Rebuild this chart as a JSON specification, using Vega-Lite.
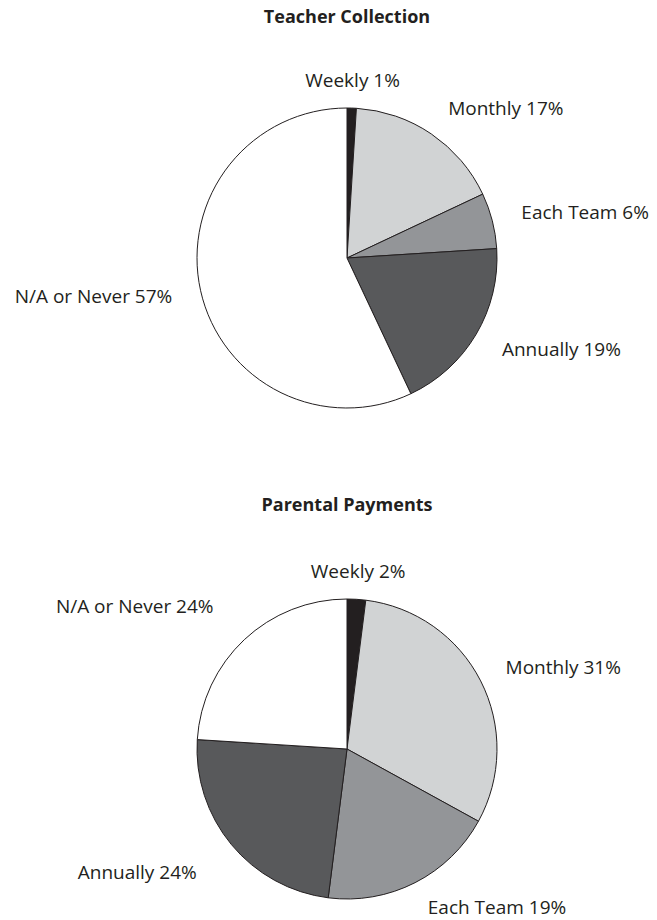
{
  "$schema": "https://vega.github.io/schema/vega-lite/v6.json",
  "padding": {"left": 14, "top": 9, "right": 0, "bottom": 0},
  "background": "white",
  "spacing": 131,
  "bounds": "flush",
  "datasets": {
    "pies": [
      {"chart": "Teacher Collection", "idx": 1, "category": "Weekly", "value": 1, "label": "Weekly 1%"},
      {"chart": "Teacher Collection", "idx": 2, "category": "Monthly", "value": 17, "label": "Monthly 17%"},
      {"chart": "Teacher Collection", "idx": 3, "category": "Each Team", "value": 6, "label": "Each Team 6%"},
      {"chart": "Teacher Collection", "idx": 4, "category": "Annually", "value": 19, "label": "Annually 19%"},
      {"chart": "Teacher Collection", "idx": 5, "category": "N/A or Never", "value": 57, "label": "N/A or Never 57%"},
      {"chart": "Parental Payments", "idx": 1, "category": "Weekly", "value": 2, "label": "Weekly 2%"},
      {"chart": "Parental Payments", "idx": 2, "category": "Monthly", "value": 31, "label": "Monthly 31%"},
      {"chart": "Parental Payments", "idx": 3, "category": "Each Team", "value": 19, "label": "Each Team 19%"},
      {"chart": "Parental Payments", "idx": 4, "category": "Annually", "value": 24, "label": "Annually 24%"},
      {"chart": "Parental Payments", "idx": 5, "category": "N/A or Never", "value": 24, "label": "N/A or Never 24%"}
    ]
  },
  "config": {
    "view": {"stroke": null},
    "font": "Open Sans",
    "title": {"fontSize": 18, "fontWeight": "bold", "color": "#231f20", "anchor": "middle", "font": "Open Sans"}
  },
  "vconcat": [
    {
      "title": {"text": "Teacher Collection", "offset": 31},
      "width": 620,
      "height": 400,
      "data": {"name": "pies"},
      "transform": [{"filter": "datum.chart === 'Teacher Collection'"}],
      "encoding": {
        "theta": {"field": "value", "type": "quantitative", "stack": true},
        "order": {"field": "idx", "type": "ordinal"}
      },
      "layer": [
        {
          "mark": {"type": "arc", "outerRadius": 150, "stroke": "#231f20", "strokeWidth": 1},
          "encoding": {
            "color": {"field": "category", "type": "nominal",
              "scale": {"domain": ["Weekly", "Monthly", "Each Team", "Annually", "N/A or Never"],
                        "range": ["#231f20", "#d1d3d4", "#939598", "#58595b", "#ffffff"]},
              "legend": null}
          }
        },
        {
          "mark": {"type": "text", "radius": 177, "align": "center", "baseline": "middle", "fontSize": 19, "color": "#231f20"},
          "encoding": {
            "text": {"field": "label", "type": "nominal"},
            "opacity": {"condition": {"test": "datum.category === 'Weekly'", "value": 1}, "value": 0}
          }
        },
        {
          "mark": {"type": "text", "radius": 180, "align": "left", "baseline": "middle", "fontSize": 19, "color": "#231f20"},
          "encoding": {
            "text": {"field": "label", "type": "nominal"},
            "opacity": {"condition": {"test": "datum.category === 'Monthly' || datum.category === 'Each Team' || datum.category === 'Annually'", "value": 1}, "value": 0}
          }
        },
        {
          "mark": {"type": "text", "radius": 179, "align": "right", "baseline": "middle", "fontSize": 19, "color": "#231f20"},
          "encoding": {
            "text": {"field": "label", "type": "nominal"},
            "opacity": {"condition": {"test": "datum.category === 'N/A or Never'", "value": 1}, "value": 0}
          }
        }
      ]
    },
    {
      "title": {"text": "Parental Payments", "offset": 30},
      "width": 620,
      "height": 320,
      "data": {"name": "pies"},
      "transform": [{"filter": "datum.chart === 'Parental Payments'"}],
      "encoding": {
        "theta": {"field": "value", "type": "quantitative", "stack": true},
        "order": {"field": "idx", "type": "ordinal"}
      },
      "layer": [
        {
          "mark": {"type": "arc", "outerRadius": 150, "stroke": "#231f20", "strokeWidth": 1},
          "encoding": {
            "color": {"field": "category", "type": "nominal",
              "scale": {"domain": ["Weekly", "Monthly", "Each Team", "Annually", "N/A or Never"],
                        "range": ["#231f20", "#d1d3d4", "#939598", "#58595b", "#ffffff"]},
              "legend": null}
          }
        },
        {
          "mark": {"type": "text", "radius": 177, "align": "center", "baseline": "middle", "fontSize": 19, "color": "#231f20"},
          "encoding": {
            "text": {"field": "label", "type": "nominal"},
            "opacity": {"condition": {"test": "datum.category === 'Weekly'", "value": 1}, "value": 0}
          }
        },
        {
          "mark": {"type": "text", "radius": 178, "align": "left", "baseline": "middle", "fontSize": 19, "color": "#231f20"},
          "encoding": {
            "text": {"field": "label", "type": "nominal"},
            "opacity": {"condition": {"test": "datum.category === 'Monthly' || datum.category === 'Each Team'", "value": 1}, "value": 0}
          }
        },
        {
          "mark": {"type": "text", "radius": 195, "align": "right", "baseline": "middle", "fontSize": 19, "color": "#231f20"},
          "encoding": {
            "text": {"field": "label", "type": "nominal"},
            "opacity": {"condition": {"test": "datum.category === 'N/A or Never' || datum.category === 'Annually'", "value": 1}, "value": 0}
          }
        }
      ]
    }
  ]
}
